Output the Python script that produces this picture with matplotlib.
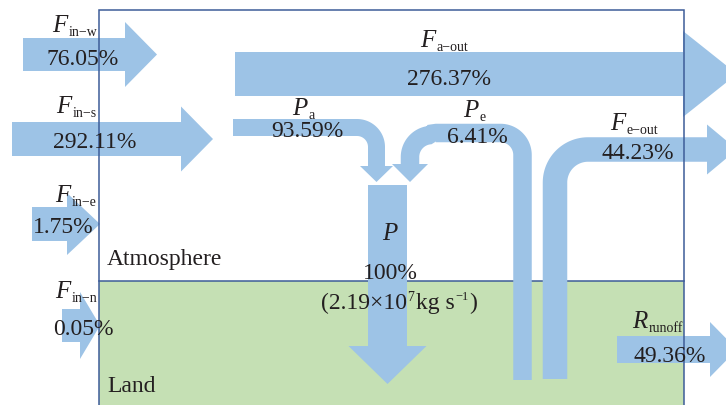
import numpy as np
import matplotlib
matplotlib.use("Agg")
import matplotlib.pyplot as plt
from matplotlib.patches import Polygon, Rectangle

plt.rcParams["font.family"] = "Liberation Serif"

# water vapour budget, percent of precipitation
flux_keys = ["in_w", "in_s", "in_e", "in_n", "a_out", "p_a", "p_e", "e_out", "runoff"]
flux_symbols = ["F", "F", "F", "F", "F", "P", "P", "F", "R"]
flux_subs = ["in\u2212w", "in\u2212s", "in\u2212e", "in\u2212n", "a\u2212out",
             "a", "e", "e\u2212out", "runoff"]
flux_pct = [76.05, 292.11, 1.75, 0.05, 276.37, 93.59, 6.41, 44.23, 49.36]
precip_pct = 100
precip_mantissa = 2.19
precip_exp = 7

ARROW = "#9dc3e6"
LAND = "#c5e0b4"
EDGE = "#3d5c99"
INK = "#231f20"

# label layout: symbol left x, symbol baseline, value centre x, value baseline
label_pos = {
    "in_w": (52, 32, 83, 65),
    "in_s": (56, 113, 95, 148),
    "in_e": (55, 202, 63, 233),
    "in_n": (55, 298, 83, 335),
    "a_out": (420, 47, 449, 85),
    "p_a": (292, 115, 307, 137),
    "p_e": (463, 117, 477, 143),
    "e_out": (610, 130, 638, 159),
    "runoff": (632, 328, 670, 362),
}


def seg(p0, p1, n=20):
    t = np.linspace(0, 1, n)[:, None]
    return np.asarray(p0) * (1 - t) + np.asarray(p1) * t


def arc(c, r, a0, a1, n=40):
    t = np.radians(np.linspace(a0, a1, n))
    return np.column_stack([c[0] + r * np.cos(t), c[1] + r * np.sin(t)])


def join(*parts):
    pts = np.vstack(parts)
    keep = np.r_[True, np.linalg.norm(np.diff(pts, axis=0), axis=1) > 1e-9]
    return pts[keep]


def ribbon(pts, width, head_w, head_len):
    pts = np.asarray(pts, dtype=float)
    tang = np.gradient(pts, axis=0)
    tang /= np.linalg.norm(tang, axis=1)[:, None]
    norm = np.column_stack([-tang[:, 1], tang[:, 0]])
    left = pts + norm * width / 2
    right = pts - norm * width / 2
    end, d, nv = pts[-1], tang[-1], norm[-1]
    head = [end + nv * head_w / 2, end + d * head_len, end - nv * head_w / 2]
    poly = np.vstack([left, head, right[::-1]])
    return Polygon(poly, closed=True, facecolor=ARROW, edgecolor="none", zorder=2)


def text_width(t):
    bb = t.get_window_extent(renderer=fig.canvas.get_renderer())
    return bb.transformed(ax.transData.inverted()).width


def rich_text(xc, y, pieces):
    # pieces: (string, fontsize, baseline shift in px, gap after in px)
    items = []
    for s, size, dy, gap in pieces:
        t = ax.text(0, y - dy, s, fontsize=size, color=INK, ha="left",
                    va="baseline", zorder=4)
        items.append((t, text_width(t) + gap))
    x = xc - sum(w for _, w in items) / 2
    for t, w in items:
        t.set_x(x)
        x += w


fig = plt.figure(figsize=(7.26, 4.06), dpi=100)
ax = fig.add_axes([0, 0, 1, 1])
ax.set_xlim(0, 726)
ax.set_ylim(406, 0)
ax.axis("off")

# land block and atmosphere/land boundary
ax.add_patch(Rectangle((99, 282), 585, 130, facecolor=LAND, edgecolor="none", zorder=0))
ax.plot([99, 684], [282, 282], color=EDGE, lw=1.1, zorder=1)

# straight arrows
straight = [
    ((23, 55.5), (125, 55.5), 33, 65, 32),
    ((12, 140), (181, 140), 34, 65, 32),
    ((32, 225), (67, 225), 34, 62, 33),
    ((62, 326.5), (80, 326.5), 33, 67, 20),
    ((235, 75), (683, 75), 44, 86, 54),
    ((387.5, 186), (387.5, 347), 39, 78, 38),
    ((617, 350.5), (710, 350.5), 27, 55, 27),
]
for p0, p1, w, hw, hl in straight:
    ax.add_patch(ribbon(seg(p0, p1), w, hw, hl))

# bent arrows
pa_line = join(seg((233, 128.5), (357, 128.5)),
               arc((357, 148), 19.5, -90, 0),
               seg((376.5, 148), (376.5, 167)))
ax.add_patch(ribbon(pa_line, 17, 33, 16))

pe_line = join(seg((522.5, 381), (522.5, 156)),
               arc((500.5, 156), 22, 0, -90),
               seg((500.5, 134), (432, 134)),
               arc((432, 158), 22, -90, -180),
               seg((410, 158), (410, 165)))
ax.add_patch(ribbon(pe_line, 18.5, 36, 18))

eout_line = join(seg((555, 380), (555, 183.5)),
                 arc((588, 183.5), 33, 180, 270),
                 seg((588, 150.5), (707, 150.5)))
ax.add_patch(ribbon(eout_line, 24.5, 50, 30))

# outer frame drawn over the arrows
ax.plot([99, 99, 684, 684], [410, 11, 11, 410], color=EDGE, lw=1.1, zorder=3,
        solid_joinstyle="miter")

# labels
for key, sym, sub, pct in zip(flux_keys, flux_symbols, flux_subs, flux_pct):
    sx, sy, vx, vy = label_pos[key]
    t = ax.text(sx, sy, sym, fontsize=18, fontstyle="italic", color=INK,
                ha="left", va="baseline", zorder=4)
    ax.text(sx + text_width(t) + 1, sy + 4, sub, fontsize=10, color=INK,
            ha="left", va="baseline", zorder=4)
    ax.text(vx, vy, f"{pct:.2f}%", fontsize=17, color=INK,
            ha="center", va="baseline", zorder=4)

ax.text(390, 240, "P", fontsize=18, fontstyle="italic", color=INK,
        ha="center", va="baseline", zorder=4)
ax.text(390, 279, f"{precip_pct}%", fontsize=17, color=INK,
        ha="center", va="baseline", zorder=4)
rich_text(399, 309, [
    (f"({precip_mantissa}\u00d710", 17, 0, 0),
    (f"{precip_exp}", 10, 8, 3),
    ("kg s", 17, 0, 0),
    ("\u22121", 9, 9, 1),
    (")", 17, 0, 0),
])

ax.text(107, 265, "Atmosphere", fontsize=17, color=INK, ha="left",
        va="baseline", zorder=4)
ax.text(107, 392, "Land", fontsize=17, color=INK, ha="left",
        va="baseline", zorder=4)

fig.savefig("out.png", dpi=100)
